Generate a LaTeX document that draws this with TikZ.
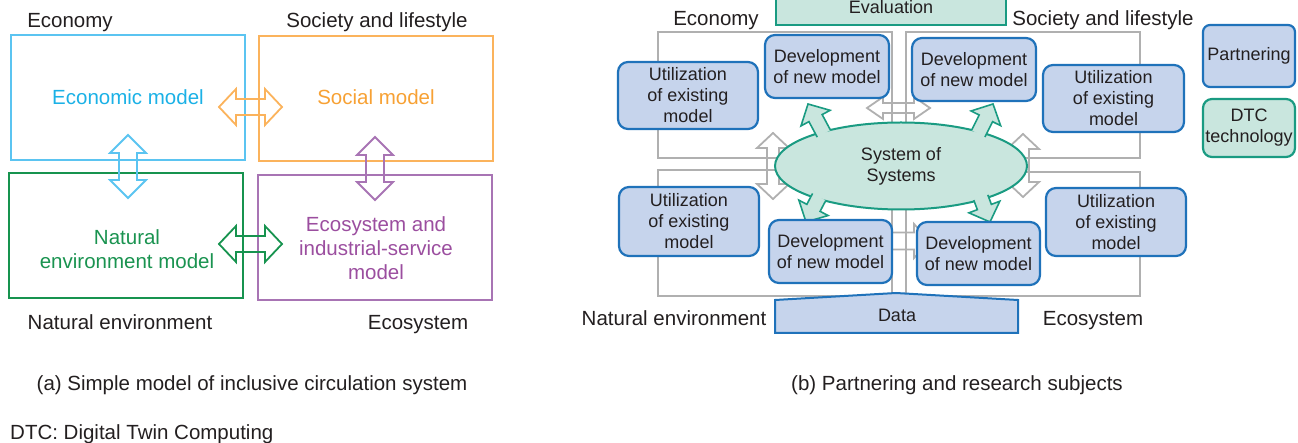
\documentclass[tikz,border=0pt]{standalone}
\usepackage{fontspec}
\setmainfont{Liberation Sans}
\usetikzlibrary{calc,shapes.geometric}

\definecolor{ink}{HTML}{231F20}
\definecolor{econline}{HTML}{5BC4F1}
\definecolor{econtext}{HTML}{1BB1E6}
\definecolor{socline}{HTML}{FBB35C}
\definecolor{soctext}{HTML}{F7A134}
\definecolor{natline}{HTML}{17934F}
\definecolor{nattext}{HTML}{1A9350}
\definecolor{ecoline}{HTML}{A874B4}
\definecolor{ecotext}{HTML}{9B4E9F}
\definecolor{pfill}{HTML}{C6D4EC}
\definecolor{pline}{HTML}{1F72BA}
\definecolor{tfill}{HTML}{C9E6DE}
\definecolor{tline}{HTML}{1A9B82}
\definecolor{grayline}{HTML}{B0B0B0}

% outlined two-headed arrow: style, end A, end B, shaft half width, head half width, head length
\newcommand{\twoway}[6]{%
  \coordinate (twA) at ($(#2)!#6!(#3)$);
  \coordinate (twB) at ($(#3)!#6!(#2)$);
  \draw[#1] (#2) -- ($(twA)!#5!90:(#3)$) -- ($(twA)!#4!90:(#3)$)
    -- ($(twB)!#4!-90:(#2)$) -- ($(twB)!#5!-90:(#2)$) -- (#3)
    -- ($(twB)!#5!90:(#2)$) -- ($(twB)!#4!90:(#2)$)
    -- ($(twA)!#4!-90:(#3)$) -- ($(twA)!#5!-90:(#3)$) -- cycle;}

% filled block arrow from a base point to a tip
\newcommand{\outarrow}[2]{%
  \coordinate (oaH) at ($(#2)!16pt!(#1)$);
  \filldraw[tealarrow] ($(#1)!7.5pt!90:(#2)$) -- ($(oaH)!7.5pt!90:(#2)$)
    -- ($(oaH)!16.5pt!90:(#2)$) -- (#2) -- ($(oaH)!16.5pt!-90:(#2)$)
    -- ($(oaH)!7.5pt!-90:(#2)$) -- ($(#1)!7.5pt!-90:(#2)$);}

\begin{document}
\begin{tikzpicture}[x=1pt,y=-1pt,
  every node/.style={inner sep=0pt, text=ink},
  mlbl/.style={font=\fontsize{20.5pt}{24pt}\selectfont, align=center},
  lbl/.style={mlbl, text height=14.7pt, text depth=0pt},
  boxtxt/.style={font=\fontsize{18pt}{21pt}\selectfont, align=center},
  modelbox/.style={draw=#1, line width=2pt, minimum width=234pt, minimum height=125pt},
  modelarrow/.style={draw=#1, line width=1.8pt},
  graybox/.style={draw=grayline, line width=1.8pt},
  grayarrow/.style={draw=grayline, line width=1.8pt},
  partbox/.style={draw=pline, fill=pfill, line width=2.2pt, rounded corners=10pt, boxtxt},
  techbox/.style={draw=tline, fill=tfill, line width=2.2pt, boxtxt},
  tealarrow/.style={draw=tline, fill=tfill, line width=1.6pt, line join=miter},
]
\useasboundingbox (0,0) rectangle (1298,443);
\clip (0,0) rectangle (1298,443);

% ---------------- (a) inclusive circulation system ----------------
\node[modelbox=econline] (econ) at (127.5,97.5) {};
\node[modelbox=socline]  (soc)  at (376,98.5) {};
\node[modelbox=natline]  (nat)  at (126,235.5) {};
\node[modelbox=ecoline]  (eco)  at (375,237.5) {};

\node[lbl, text=econtext] (econt) at (128,97) {Economic model};
\node[lbl, text=soctext]  (soct)  at (376,97) {Social model};
\node[mlbl, text=nattext] (natt)  at (127,249) {Natural\\environment model};
\node[mlbl, text=ecotext] (ecot)  at (376,248) {Ecosystem and\\industrial-service\\model};

\coordinate (es1) at (219,107); \coordinate (es2) at (282,107);
\coordinate (en1) at (128,135); \coordinate (en2) at (128,198);
\coordinate (se1) at (375,137); \coordinate (se2) at (375,200);
\coordinate (ne1) at (219,244); \coordinate (ne2) at (282,244);
\twoway{modelarrow=socline}{es1}{es2}{8pt}{18pt}{17pt}
\twoway{modelarrow=econline}{en1}{en2}{9pt}{18pt}{18pt}
\twoway{modelarrow=ecoline}{se1}{se2}{9pt}{18pt}{18pt}
\twoway{modelarrow=natline}{ne1}{ne2}{8pt}{18pt}{17pt}

\node[lbl] (la1) at (70,20) {Economy};
\node[lbl] (la2) at (377,20) {Society and lifestyle};
\node[lbl] (la3) at (120,322) {Natural environment};
\node[lbl] (la4) at (418,322) {Ecosystem};

\node[lbl] (capa) at (252,383) {(a) Simple model of inclusive circulation system};

% ---------------- (b) partnering and research subjects ----------------
\draw[graybox] (658,32) rectangle (892,158);
\draw[graybox] (906,32) rectangle (1140,158);
\draw[graybox] (658,170) rectangle (892,296);
\draw[graybox] (906,172) rectangle (1140,296);

\coordinate (gl1) at (773,133); \coordinate (gl2) at (773,199);
\coordinate (gr1) at (1023,134); \coordinate (gr2) at (1023,197);
\coordinate (gt1) at (867,108); \coordinate (gt2) at (930,108);
\coordinate (gb1) at (867,241); \coordinate (gb2) at (930,241);
\twoway{grayarrow}{gl1}{gl2}{6pt}{16pt}{15pt}
\twoway{grayarrow}{gr1}{gr2}{6pt}{16pt}{15pt}
\twoway{grayarrow}{gt1}{gt2}{5pt}{11pt}{16pt}
\twoway{grayarrow}{gb1}{gb2}{8.5pt}{17pt}{16pt}

% evaluation and data
\node[techbox, minimum width=230pt, minimum height=32pt] (eval) at (891,9) {};
\node[boxtxt] (evalt) at (891,7) {Evaluation};
\draw[draw=pline, fill=pfill, line width=2pt] (775,333) -- (775,300) -- (896,293) -- (1018,300) -- (1018,333) -- cycle;
\node[boxtxt] (data) at (897,315) {Data};

% system of systems
\node[ellipse, draw=tline, fill=tfill, line width=2pt, minimum width=252pt, minimum height=87pt, boxtxt] (sos) at (901,166) {System of\\Systems};

\coordinate (t1) at (808,104);
\coordinate (t2) at (993,104);
\coordinate (t3) at (806,222);
\coordinate (t4) at (990,222);
\coordinate (b1) at ($(sos.156)!-3pt!(t1)$);
\coordinate (b2) at ($(sos.24)!-3pt!(t2)$);
\coordinate (b3) at ($(sos.202)!-3pt!(t3)$);
\coordinate (b4) at ($(sos.337)!-3pt!(t4)$);
\outarrow{b1}{t1}
\outarrow{b2}{t2}
\outarrow{b3}{t3}
\outarrow{b4}{t4}

% partnering subjects
\node[partbox, minimum width=124pt, minimum height=63pt] (dev1) at (827,66.5) {Development\\of new model};
\node[partbox, minimum width=124pt, minimum height=63pt] (dev2) at (974,69.5) {Development\\of new model};
\node[partbox, minimum width=123pt, minimum height=63pt] (dev3) at (830.5,251.5) {Development\\of new model};
\node[partbox, minimum width=123pt, minimum height=63pt] (dev4) at (978.5,253.5) {Development\\of new model};
\node[partbox, minimum width=140pt, minimum height=67pt] (use1) at (688,95.5) {Utilization\\of existing\\model};
\node[partbox, minimum width=141pt, minimum height=67pt] (use2) at (1113.5,98.5) {Utilization\\of existing\\model};
\node[partbox, minimum width=140pt, minimum height=69pt] (use3) at (689,221.5) {Utilization\\of existing\\model};
\node[partbox, minimum width=140pt, minimum height=68pt] (use4) at (1116,222) {Utilization\\of existing\\model};

% legend
\node[partbox, rounded corners=7pt, minimum width=92pt, minimum height=62pt] (leg1) at (1249,56) {Partnering};
\node[techbox, rounded corners=9pt, minimum width=92pt, minimum height=58pt] (leg2) at (1249,128) {DTC\\technology};

\node[lbl] (lb1) at (716,18) {Economy};
\node[lbl] (lb2) at (1103,18) {Society and lifestyle};
\node[lbl] (lb3) at (674,318) {Natural environment};
\node[lbl] (lb4) at (1093,318) {Ecosystem};

\node[lbl] (capb) at (957,383) {(b) Partnering and research subjects};

\node[lbl, anchor=west] (note) at (10,432) {DTC: Digital Twin Computing};
\end{tikzpicture}
\end{document}
